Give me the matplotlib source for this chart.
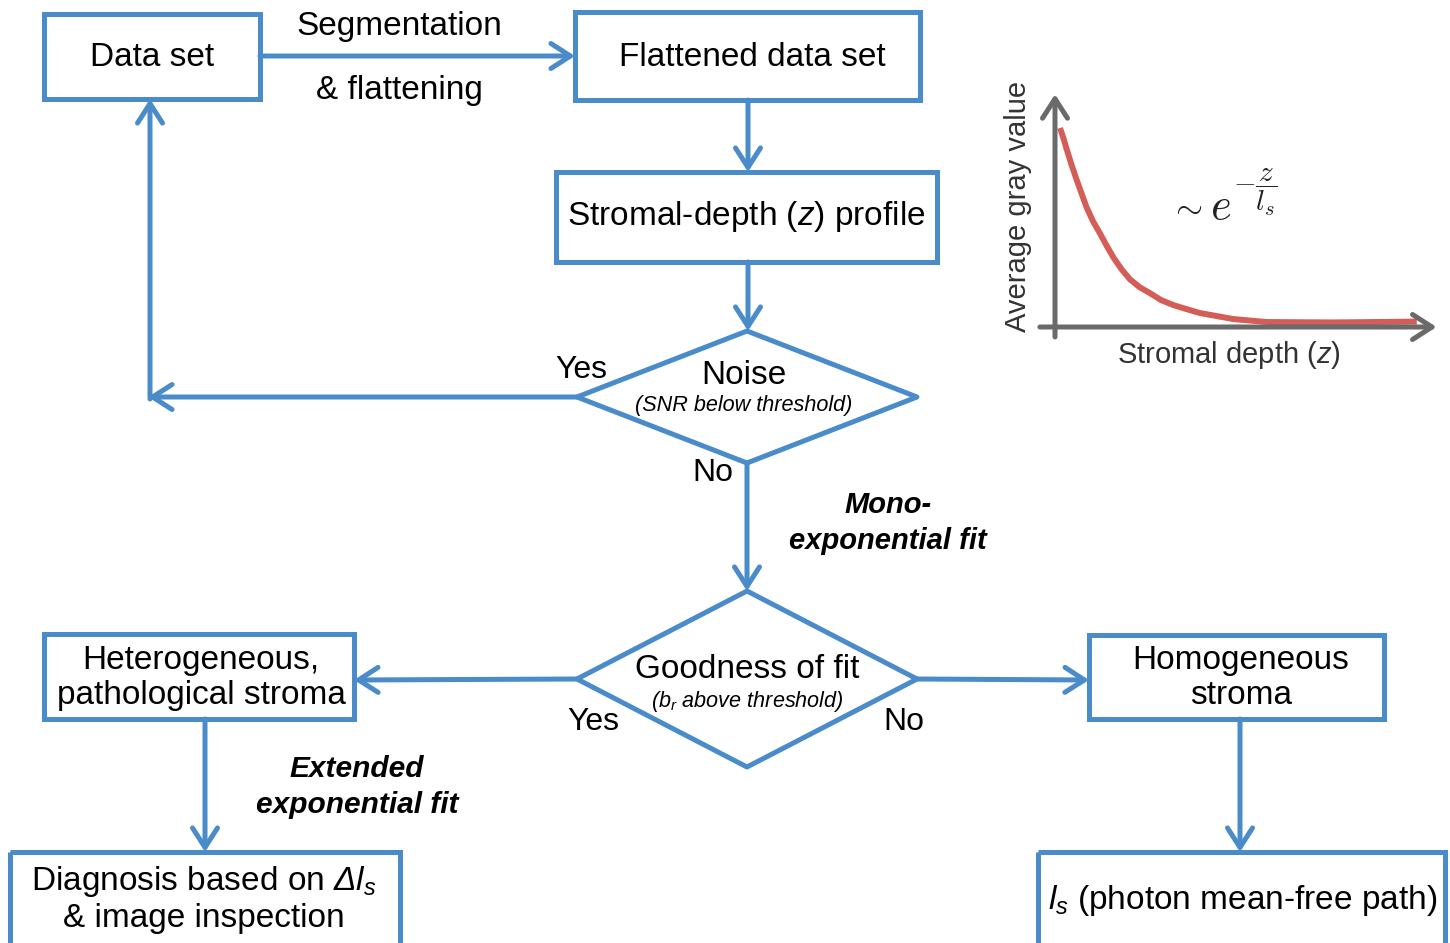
import matplotlib
matplotlib.use("Agg")
import matplotlib.pyplot as plt
from matplotlib.patches import Rectangle, Polygon

BLUE = '#4a8bc9'
GRAY = '#6a6a6a'
RED = '#d45d58'
LW = 3.6

plt.rcParams['font.family'] = ['Liberation Sans', 'DejaVu Sans']
plt.rcParams['mathtext.fontset'] = 'custom'
plt.rcParams['mathtext.rm'] = 'Liberation Sans'
plt.rcParams['mathtext.it'] = 'Liberation Sans:italic'
plt.rcParams['mathtext.bf'] = 'Liberation Sans:bold'
# italic greek is not given by mathtext.it, so borrow the sf slot
plt.rcParams['mathtext.sf'] = 'Liberation Sans:italic'

# curve of the inset (depth in arbitrary units, gray 0..1)
curve_depth = [0.14, 0.24, 0.33, 0.46, 0.60, 0.74, 0.88, 1.06, 1.25, 1.43,
               1.62, 1.85, 2.08, 2.35, 2.64, 2.95, 3.29, 3.65, 4.03, 4.95,
               5.88, 7.73, 10.05]
curve_gray = [1.00, 0.945, 0.89, 0.815, 0.74, 0.67, 0.60, 0.53, 0.47, 0.41,
              0.35, 0.29, 0.24, 0.20, 0.17, 0.135, 0.11, 0.09, 0.07, 0.04,
              0.025, 0.023, 0.027]

# boxes: x0, y0, x1, y1, label
boxes = [
    (44, 14, 260, 99, 'Data set'),
    (575, 12, 920, 100, 'Flattened data set'),
    (556, 172, 937, 262, r'Stromal-depth ($z$) profile'),
    (44, 634, 354, 719, 'Heterogeneous,\npathological stroma'),
    (1089, 635, 1384, 719, 'Homogeneous\nstroma'),
    (10, 852, 400, 960, 'Diagnosis based on $\\mathsf{\u0394}\\mathit{l_s}$\n& image inspection'),
    (1038, 852, 1445, 960, r'$l_s$ (photon mean-free path)'),
]
box_text_x = [152, 752, 746, 201, 1241, 204, 1243]
box_text_y = [58, 58, 217, 678, 678, 899, 900]

# diamonds: cx, cy, half width, half height
diamonds = [
    (747, 397, 170, 66),
    (747, 679, 170, 88),
]

arrows = [
    ((260, 56), (575, 56)),
    ((748, 100), (748, 172)),
    ((748, 262), (748, 331)),
    ((577, 397), (148, 397)),
    ((150, 399), (150, 99)),
    ((747, 463), (747, 591)),
    ((577, 679), (354, 680)),
    ((205, 719), (205, 852)),
    ((917, 679), (1089, 680)),
    ((1240, 719), (1240, 852)),
]

W, H = 1450, 943
fig = plt.figure(figsize=(W / 100, H / 100), dpi=100)
ax = fig.add_axes((0, 0, 1, 1))
ax.set_xlim(0, W)
ax.set_ylim(H, 0)
ax.axis('off')

for (x0, y0, x1, y1, label), tx, ty in zip(boxes, box_text_x, box_text_y):
    ax.add_patch(Rectangle((x0, y0), x1 - x0, y1 - y0, fill=False,
                           ec=BLUE, lw=LW, joinstyle='miter'))
    ax.text(tx, ty, label, ha='center', va='center',
            fontsize=24, linespacing=1.13)

for cx, cy, hw, hh in diamonds:
    pts = [(cx, cy - hh), (cx + hw, cy), (cx, cy + hh), (cx - hw, cy)]
    ax.add_patch(Polygon(pts, closed=True, fill=False, ec=BLUE, lw=LW,
                         joinstyle='round'))
ax.text(744, 375, 'Noise', ha='center', va='center', fontsize=24)
ax.text(744, 406, '(SNR below threshold)', ha='center', va='center',
        fontsize=15.6, style='italic')
ax.text(747, 670, 'Goodness of fit', ha='center', va='center', fontsize=24)
ax.text(747, 702, '($b_r$ above threshold)', ha='center', va='center',
        fontsize=15.6, style='italic')

for start, end in arrows:
    ax.annotate('', xy=end, xytext=start,
                arrowprops=dict(arrowstyle='->,head_length=0.7,head_width=0.45',
                                lw=LW, color=BLUE, shrinkA=0, shrinkB=0,
                                mutation_scale=20))

ax.text(399, 27, 'Segmentation', ha='center', va='center', fontsize=24)
ax.text(399, 90, '& flattening', ha='center', va='center', fontsize=24)
ax.text(581, 370, 'Yes', ha='center', va='center', fontsize=23)
ax.text(713, 473, 'No', ha='center', va='center', fontsize=23)
ax.text(593, 722, 'Yes', ha='center', va='center', fontsize=23)
ax.text(904, 722, 'No', ha='center', va='center', fontsize=23)
ax.text(888, 523, 'Mono-\nexponential fit', ha='center', va='center',
        fontsize=21, weight='bold', style='italic', linespacing=1.38)
ax.text(357, 787, 'Extended\nexponential fit', ha='center', va='center',
        fontsize=21.5, weight='bold', style='italic', linespacing=1.35)

# inset exponential decay sketch
ix0, iy0, ix1, iy1 = 1055, 327, 1415, 128
inset = fig.add_axes((ix0 / W, 1 - iy0 / H, (ix1 - ix0) / W, (iy0 - iy1) / H))
inset.set_xlim(0, 10)
inset.set_ylim(0, 1)
inset.axis('off')
inset.annotate('', xy=(0, 1.17), xytext=(0, -0.05),
               arrowprops=dict(arrowstyle='->,head_length=0.7,head_width=0.45',
                               lw=LW, color=GRAY, shrinkA=0, shrinkB=0,
                               mutation_scale=20),
               annotation_clip=False)
inset.annotate('', xy=(10.6, 0), xytext=(-0.42, 0),
               arrowprops=dict(arrowstyle='->,head_length=0.7,head_width=0.45',
                               lw=LW, color=GRAY, shrinkA=0, shrinkB=0,
                               mutation_scale=20),
               annotation_clip=False)
inset.plot(curve_depth, curve_gray, color=RED, lw=4.3, clip_on=False,
           solid_capstyle='butt', solid_joinstyle='round')

ax.text(1018, 206, 'Average gray value', ha='center', va='center',
        rotation=90, fontsize=21, color='#333333')
ax.text(1229, 355, r'Stromal depth ($z$)', ha='center', va='center',
        fontsize=21, color='#333333')

# ~ e^(-z/l_s), set in three pieces so the exponent stays large
ax.text(1186, 208, r'$\sim$', ha='center', va='center',
        fontsize=25, color='#222222', math_fontfamily='cm')
ax.text(1221, 207, r'$e$', ha='center', va='center',
        fontsize=32, color='#222222', math_fontfamily='cm')
ax.text(1255, 192, r'$-\dfrac{z}{l_s}$', ha='center', va='center',
        fontsize=21, color='#222222', math_fontfamily='cm')

fig.savefig('out.png', dpi=100)
